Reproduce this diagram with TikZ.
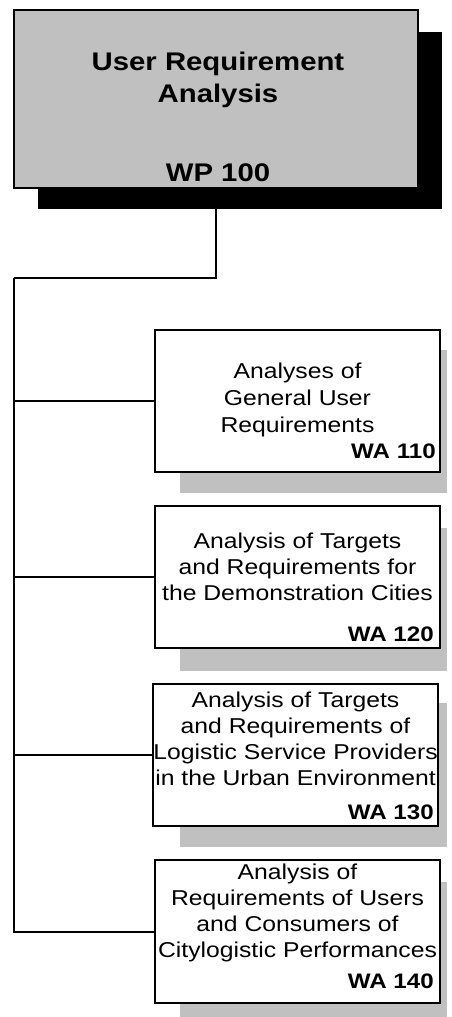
\documentclass[tikz,border=0pt]{standalone}
\usepackage{fontspec}
\setmainfont[FakeStretch=1.15]{Liberation Sans}
\begin{document}
\begin{tikzpicture}[x=1pt,y=-1pt,
  box/.style={draw=black,line width=1.8pt,fill=white,inner sep=0pt,outer sep=0pt,
    minimum width=285pt,minimum height=142pt},
  mainbox/.style={box,fill=boxgray,minimum width=404pt,minimum height=178pt},
  shade/.style={fill=boxgray,draw=none,inner sep=0pt,outer sep=0pt,
    minimum width=267pt,minimum height=143pt},
  mainshade/.style={fill=black,draw=none,inner sep=0pt,outer sep=0pt,
    minimum width=404pt,minimum height=177pt},
  conn/.style={draw=black,line width=2pt},
  bodytext/.style={align=center,inner sep=0pt,anchor=base,
    font=\fontsize{21.5}{#1}\selectfont},
  bodytext/.default=26.5,
  wplabel/.style={inner sep=0pt,anchor=base east,font=\fontsize{21}{25}\selectfont\bfseries},
  titletext/.style={align=center,inner sep=0pt,anchor=base,
    font=\fontsize{25.5}{32}\selectfont\bfseries}
]
\definecolor{boxgray}{HTML}{C0C0C0}
\clip (0,0) rectangle (452,1017);
\fill[white] (0,0) rectangle (452,1017);

% work package header with its drop shadow
\node[mainshade] (wpshade) at (240,120.5) {};
\node[mainbox] (wp) at (216,99) {};
% multi-line nodes sit on the baseline of their last line
\node[titletext] (wptitle) at (218,181) {User Requirement\\Analysis\\[47pt]WP 100};

% shadows of the work areas
\node[shade] (s110) at (313.5,421.5) {};
\node[shade] (s120) at (313.5,599) {};
\node[shade,minimum height=144pt] (s130) at (313.5,775) {};
\node[shade] (s140) at (313.5,953.5) {};

% work areas
\node[box] (wa110) at (297.5,401) {};
\node[box] (wa120) at (297.5,577) {};
\node[box] (wa130) at (295.5,755) {};
\node[box,minimum height=143pt] (wa140) at (297.5,931.5) {};

% connectors
\coordinate (trunk) at (14,278);
\draw[conn] (wp.south |- wpshade.south) |- (trunk);
\draw[conn] (trunk) |- (wa140.west);
\draw[conn] (trunk |- wa110.west) -- (wa110.west);
\draw[conn] (trunk |- wa120.west) -- (wa120.west);
\draw[conn] (trunk |- wa130.west) -- (wa130.west);

% texts
\node[bodytext=27] (t110) at (297.5,432) {Analyses of\\General User\\Requirements};
\node[wplabel] (l110) at (436,458) {WA 110};

\node[bodytext=26] (t120) at (297.5,600) {Analysis of Targets\\and Requirements for\\the Demonstration Cities};
\node[wplabel] (l120) at (434,641) {WA 120};

\node[bodytext=26] (t130) at (295.5,785) {Analysis of Targets\\and Requirements of\\Logistic Service Providers\\in the Urban Environment};
\node[wplabel] (l130) at (434,819) {WA 130};

\node[bodytext=26] (t140) at (297.5,957) {Analysis of\\Requirements of Users\\and Consumers of\\Citylogistic Performances};
\node[wplabel] (l140) at (434,988) {WA 140};
\end{tikzpicture}
\end{document}
